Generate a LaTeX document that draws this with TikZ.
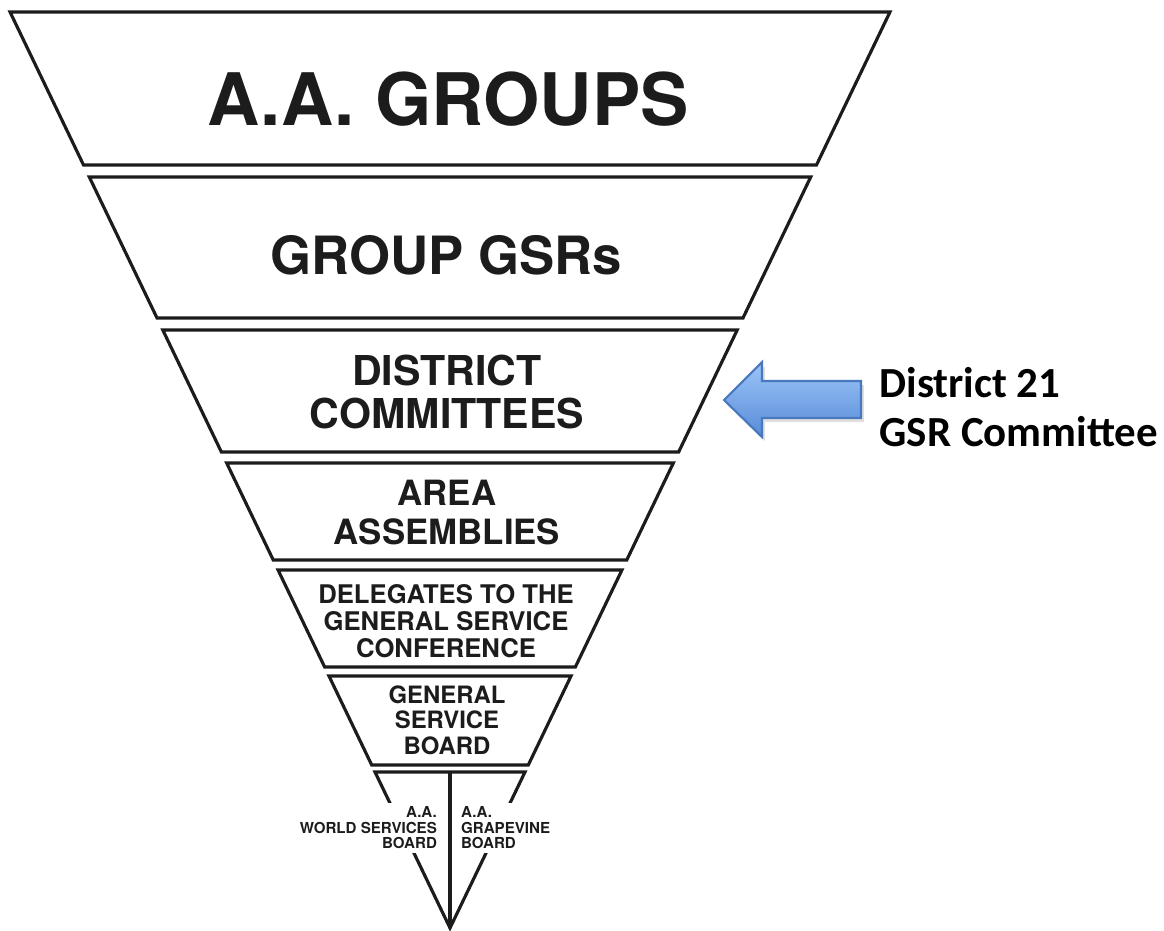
\documentclass[tikz,border=0pt]{standalone}
\usepackage{fontspec}
\setmainfont{TeX Gyre Heros}
\newfontfamily\calibri{Carlito}
\usepackage{tikz}
\usetikzlibrary{positioning,shadows}

\definecolor{inkgray}{HTML}{1C1C1C}
\definecolor{arrowtop}{RGB}{156,196,248}
\definecolor{arrowbot}{RGB}{88,140,216}
\definecolor{arrowline}{RGB}{72,120,190}

\begin{document}
\begin{tikzpicture}[x=0.01cm, y=-0.01cm, line width=0.9pt]
	\tikzstyle{band}=[draw=inkgray]
	\tikzstyle{tier}=[text=inkgray, align=center, inner sep=0pt]
	\tikzstyle{board}=[text=inkgray, fill=white, inner sep=1pt,
		font=\bfseries\fontsize{4.3}{4.4}\selectfont]
	\tikzstyle{bluearrow}=[draw=arrowline, line width=0.6pt,
		top color=arrowtop, bottom color=arrowbot,
		drop shadow={opacity=0.25, shadow xshift=0.8pt, shadow yshift=-1.2pt}]
	\useasboundingbox (0,0) rectangle (1164,931);
	% % Funnel
	% bands, all on one pair of slanted lines
	\foreach \yt/\yb in {12/165,177/318,330/452,463/560,570/667,676/765}{
		\draw[band] ({450-0.4803*(928-\yt)},\yt) -- ({450+0.4803*(928-\yt)},\yt)
			-- ({450+0.4803*(928-\yb)},\yb) -- ({450-0.4803*(928-\yb)},\yb) -- cycle;
	}
	% bottom triangle
	\coordinate (split) at (450,772);
	\coordinate (apex) at (450,928);
	\draw[band] (375,772) -- (525,772) -- (apex) -- cycle;
	% % Nodes
	\node[tier, font=\bfseries\fontsize{20.6}{22}\selectfont] (groups)
		at (448,99) {A.A. GROUPS};
	\node[tier, font=\bfseries\fontsize{15}{16}\selectfont] (gsrs)
		at (446,255) {GROUP GSRs};
	\node[tier, font=\bfseries\fontsize{11.7}{12.2}\selectfont] (district)
		at (447,392) {DISTRICT\\COMMITTEES};
	\node[tier, font=\bfseries\fontsize{9.9}{11.1}\selectfont] (area)
		at (447,513) {AREA\\ASSEMBLIES};
	\node[tier, font=\bfseries\fontsize{7.3}{7.7}\selectfont] (delegates)
		at (446,621) {DELEGATES TO THE\\GENERAL SERVICE\\CONFERENCE};
	\node[tier, font=\bfseries\fontsize{6.8}{7.25}\selectfont] (gsb)
		at (447,720) {GENERAL\\SERVICE\\BOARD};
	% split boards
	\node[board, align=right, anchor=east] (world) at (442,828)
		{A.A.\\WORLD SERVICES\\BOARD};
	\node[board, align=left, anchor=west] (grapevine) at (456,828)
		{A.A.\\GRAPEVINE\\BOARD};
	\draw[band] (split) -- (apex);
	% % Pointer
	\coordinate (tip) at (724,400);
	\draw[bluearrow] (tip) -- ++(38,-38) -- ++(0,19) -- ++(99,0) -- ++(0,37)
		-- ++(-99,0) -- ++(0,19) -- cycle;
	\node[anchor=west, align=left, inner sep=0pt, text=black,
		font=\calibri\bfseries\fontsize{12.2}{14}\selectfont] (gsrcom)
		at (878,407) {District 21\\GSR Committee};
\end{tikzpicture}
\end{document}
